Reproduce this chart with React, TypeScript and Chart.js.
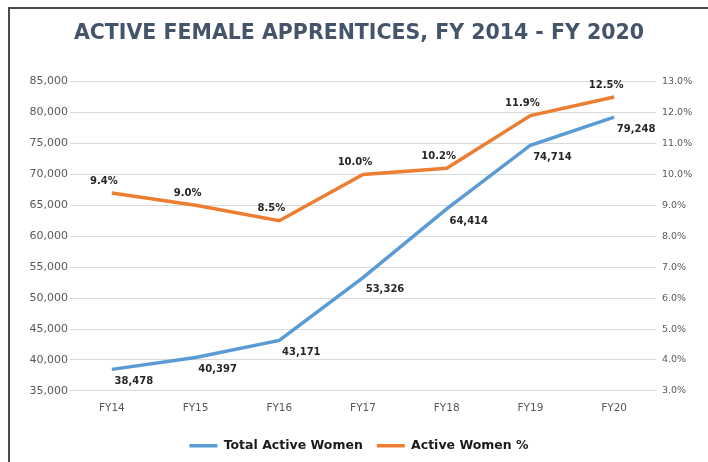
import React, { useEffect, useRef } from "react";
import { Chart, registerables } from "chart.js";

Chart.register(...registerables);

const categories = ["FY14", "FY15", "FY16", "FY17", "FY18", "FY19", "FY20"];
const totalActiveWomen = [38478, 40397, 43171, 53326, 64414, 74714, 79248];
const activeWomenPct = [9.4, 9.0, 8.5, 10.0, 10.2, 11.9, 12.5];
const leftTicks = { min: 35000, max: 85000, step: 5000 };
const rightTicks = { min: 3, max: 13, step: 1 };

const BLUE = "#5B9BD5";
const ORANGE = "#ED7D31";
const FONT = "'DejaVu Sans', sans-serif";

const dataLabelPlugin = {
  id: "dataLabels",
  afterDatasetsDraw(chart: any) {
    const ctx = chart.ctx;
    ctx.save();
    ctx.font = `bold 10px ${FONT}`;
    ctx.fillStyle = "#262626";
    ctx.textAlign = "center";
    ctx.textBaseline = "middle";
    chart.data.datasets.forEach((ds: any, di: number) => {
      const meta = chart.getDatasetMeta(di);
      meta.data.forEach((el: any, i: number) => {
        const v = ds.data[i];
        if (di === 0) {
          ctx.fillText(v.toLocaleString("en-US"), el.x + 22, el.y + 12);
        } else {
          ctx.fillText(v.toFixed(1) + "%", el.x - 8, el.y - 12);
        }
      });
    });
    ctx.restore();
  },
};

export default function App() {
  const ref = useRef<HTMLCanvasElement>(null);
  useEffect(() => {
    const chart = new Chart(ref.current!, {
      type: "line",
      data: {
        labels: categories,
        datasets: [
          {
            label: "Total Active Women",
            data: totalActiveWomen,
            borderColor: BLUE,
            backgroundColor: BLUE,
            borderWidth: 3.5,
            pointRadius: 0,
            tension: 0,
            yAxisID: "y",
          },
          {
            label: "Active Women %",
            data: activeWomenPct,
            borderColor: ORANGE,
            backgroundColor: ORANGE,
            borderWidth: 3.5,
            pointRadius: 0,
            tension: 0,
            yAxisID: "y1",
          },
        ],
      },
      options: {
        responsive: false,
        animation: false,
        devicePixelRatio: 1,
        layout: { padding: { top: 0, bottom: 0, left: 0, right: 0 } },
        plugins: {
          title: {
            display: true,
            text: "ACTIVE FEMALE APPRENTICES, FY 2014 - FY 2020",
            color: "#44546A",
            font: { family: FONT, size: 20.5, weight: "bold", lineHeight: 1.2 },
            padding: { top: 12, bottom: 36 },
          },
          legend: {
            position: "bottom",
            labels: {
              usePointStyle: true,
              pointStyle: "line",
              pointStyleWidth: 28,
              color: "#1a1a1a",
              padding: 14,
              font: { family: FONT, size: 12.5, weight: "bold" },
            },
          },
          tooltip: { enabled: false },
        },
        scales: {
          x: {
            offset: true,
            grid: { display: false, drawTicks: false, offset: true },
            border: { display: false },
            ticks: { color: "#595959", font: { family: FONT, size: 10.5 }, padding: 11 },
          },
          y: {
            position: "left",
            min: leftTicks.min,
            max: leftTicks.max,
            afterFit: (s: any) => { s.width = 60; },
            grid: { color: "#D9D9D9", drawTicks: false },
            border: { display: false },
            ticks: {
              stepSize: leftTicks.step,
              color: "#595959",
              padding: 2,
              font: { family: FONT, size: 11 },
              callback: (v: any) => Number(v).toLocaleString("en-US"),
            },
          },
          y1: {
            position: "right",
            min: rightTicks.min,
            max: rightTicks.max,
            afterFit: (s: any) => { s.width = 52; },
            grid: { display: false, drawTicks: false },
            border: { display: false },
            ticks: {
              stepSize: rightTicks.step,
              color: "#595959",
              padding: 6,
              font: { family: FONT, size: 9.5 },
              callback: (v: any) => Number(v).toFixed(1) + "%",
            },
          },
        },
      },
      plugins: [dataLabelPlugin],
    });
    return () => chart.destroy();
  }, []);
  return (
    <div
      style={{
        position: "fixed",
        left: 8,
        top: 7,
        width: 700,
        height: 455,
        boxSizing: "border-box",
        borderTop: "2px solid #4a4a4a",
        borderLeft: "2px solid #4a4a4a",
        background: "#fff",
      }}
    >
      <canvas ref={ref} width={698} height={453} style={{ display: "block" }} />
    </div>
  );
}
